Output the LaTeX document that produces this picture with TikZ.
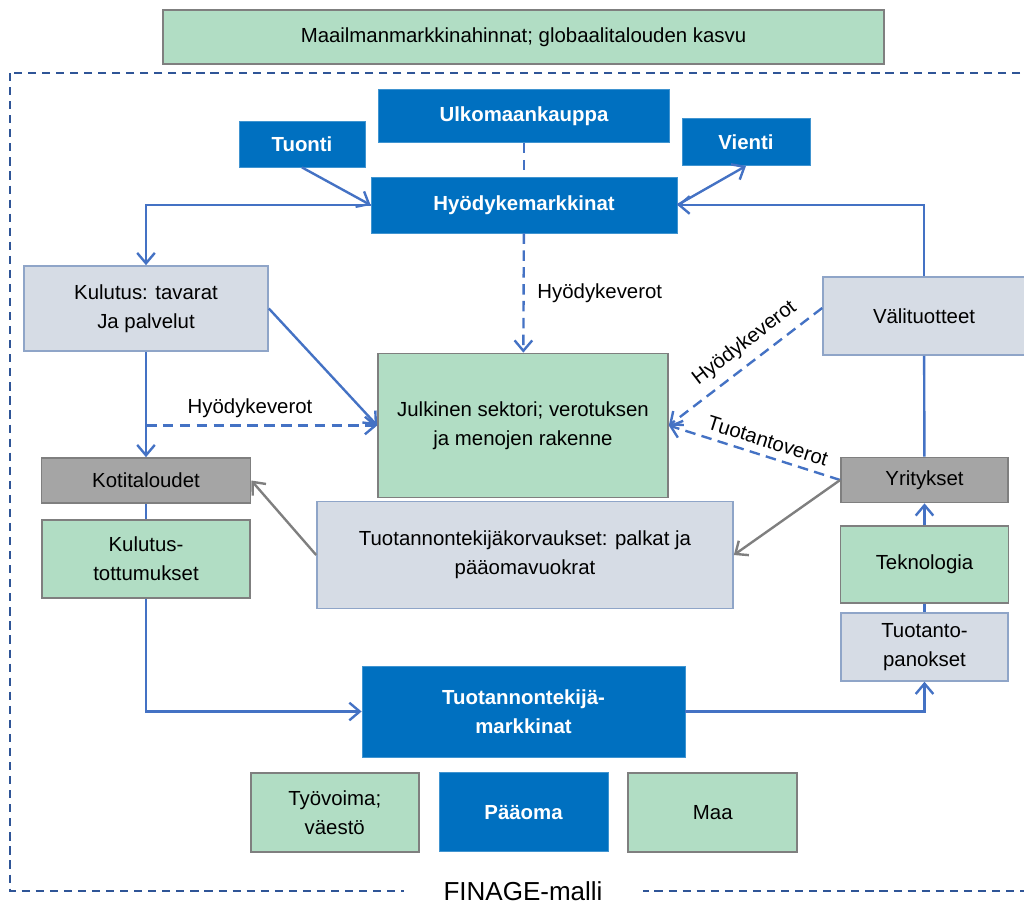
\documentclass[tikz,border=0pt]{standalone}
\usepackage{fontspec}
\setmainfont{Liberation Sans}
\usetikzlibrary{arrows.meta,positioning}
\definecolor{boxblue}{HTML}{0070C0}
\definecolor{lineblue}{HTML}{4472C4}
\definecolor{framblue}{HTML}{2F5597}
\definecolor{grnfill}{HTML}{B1DDC4}
\definecolor{lgtfill}{HTML}{D6DCE5}
\definecolor{lgtedge}{HTML}{8FA5C8}
\definecolor{agtfill}{HTML}{A5A5A5}
\definecolor{boxgray}{HTML}{7F7F7F}
\newcommand\boxfont{\fontsize{14.5}{20.5}\selectfont}
\tikzset{
  flowarr/.style={-{Straight Barb[length=2.6mm,width=4.4mm]}, line width=1.7pt, draw=lineblue},
  flowline/.style={line width=1.7pt, draw=lineblue},
  taxarr/.style={flowarr, dash pattern=on 7.5pt off 4.5pt},
  payarr/.style={flowarr, draw=boxgray},
  diagbox/.style={draw, line width=1.2pt, align=center, inner sep=2pt, font=\boxfont},
}

\begin{document}
\begin{tikzpicture}[
  x=0.025cm, y=-0.025cm,
  sz/.style 2 args={minimum width=#1*0.025cm, minimum height=#2*0.025cm},
  mkt/.style={diagbox, fill=boxblue, draw=boxblue!75!white, line width=0.6pt, text=white, font=\boxfont\bfseries},
  grn/.style={diagbox, fill=grnfill, draw=boxgray},
  lgt/.style={diagbox, fill=lgtfill, draw=lgtedge},
  agt/.style={diagbox, fill=agtfill, draw=boxgray},
  lbl/.style={font=\boxfont, inner sep=2pt},
  outerframe/.style={draw=framblue, line width=1.3pt, dash pattern=on 5.8pt off 4.2pt},
]
  \useasboundingbox (0,0) rectangle (1024,908);
  \clip (0,0) rectangle (1024,908);
  \draw[outerframe] (10,73) rectangle (1040,891);
  \node[fill=white, inner xsep=1cm, inner ysep=0pt, font=\fontsize{18.5}{22}\selectfont] (finage) at (523,891) {FINAGE-malli};
  \node[grn, sz={721}{54}] (world) at (523.5,37) {Maailmanmarkkinahinnat; globaalitalouden kasvu};

  % tavaramarkkinat
  \node[mkt, sz={291}{53}] (ulko) at (524,116) {Ulkomaankauppa};
  \node[mkt, sz={126}{46}] (tuonti) at (302,144) {Tuonti};
  \node[mkt, sz={128}{47}] (vienti) at (746,142) {Vienti};
  \node[mkt, sz={306}{56}] (hyod) at (524,205) {Hyödykemarkkinat};
  \node[lgt, sz={244}{85}] (kulutus) at (146,308.5) {Kulutus: tavarat\\Ja palvelut};
  \node[grn, sz={290}{144}] (julk) at (523,425.5) {Julkinen sektori; verotuksen\\ja menojen rakenne};
  \node[lgt, sz={202}{78}] (valit) at (924,316) {Välituotteet};

  % kotitaloudet ja yritykset
  \node[agt, sz={209}{45}] (koti) at (146,480.5) {Kotitaloudet};
  \node[grn, sz={208}{78}, below=0.375cm of koti] (tottu) {Kulutus-\\tottumukset};
  \node[agt, sz={167}{45}] (yrit) at (924.5,480) {Yritykset};
  \node[grn, sz={168}{77}, below=0.55cm of yrit] (tekno) {Teknologia};
  \node[lgt, sz={167}{68}, below=0.2cm of tekno] (panos) {Tuotanto-\\panokset};
  \node[lgt, sz={416}{107}] (korv) at (525,555) {Tuotannontekijäkorvaukset: palkat ja\\pääomavuokrat};

  % tuotannontekijat
  \node[mkt, sz={323}{91}] (tmark) at (523.5,711.5) {Tuotannontekijä-\\markkinat};
  \node[mkt, sz={169}{79}, below=0.375cm of tmark] (paaoma) {Pääoma};
  \node[grn, sz={168}{79}, left=0.475cm of paaoma] (tyo) {Työvoima;\\väestö};
  \node[grn, sz={169}{79}, right=0.475cm of paaoma] (maa) {Maa};

  \draw[flowline, dash pattern=on 7.5pt off 4.5pt] (ulko) -- (hyod);
  \draw[flowarr] (tuonti.south) -- (hyod.west);
  \draw[flowarr] (hyod.east) -- (vienti.south);
  \draw[flowarr] (valit.north) |- (hyod.east);
  \draw[flowarr] (hyod.west) -| (kulutus.north);
  \draw[taxarr] (hyod) -- node[lbl, right=7pt] {Hyödykeverot} (julk);
  \draw[flowarr] (kulutus.east) -- (julk.west);
  \draw[flowarr] (kulutus) -- (koti);
  \draw[taxarr] (kulutus.south |- julk.west) -- node[lbl, above=3pt, pos=0.45] {Hyödykeverot} (julk.west);
  \draw[flowline] (koti) -- (tottu);
  \draw[flowarr] (tottu.south) |- (tmark.west);
  \draw[flowarr] (tmark.east) -| (panos.south);
  \draw[flowline] (panos) -- (tekno);
  \draw[flowarr] (tekno) -- (yrit);
  \draw[flowline] (valit) -- (yrit);
  \draw[taxarr] ([yshift=0.2cm]valit.west) -- node[lbl, sloped, above=4pt, pos=0.43] {Hyödykeverot} (julk.east);
  \draw[taxarr] (yrit.west) -- node[lbl, sloped, above=3pt, pos=0.45] {Tuotantoverot} (julk.east);
  \draw[payarr] (yrit.west) -- (korv.east);
  \draw[payarr] (korv.west) -- (koti.east);
\end{tikzpicture}
\end{document}
